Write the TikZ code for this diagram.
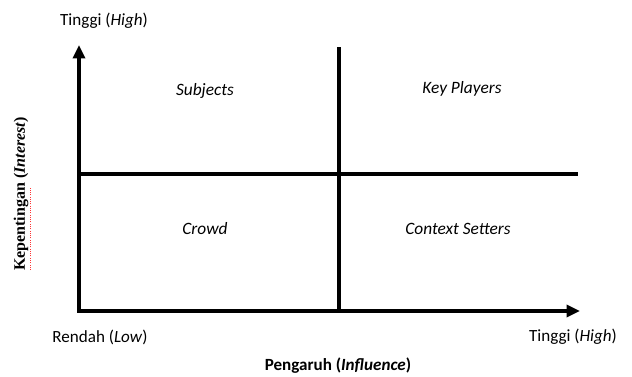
\documentclass[tikz,border=0pt]{standalone}
\usepackage{fontspec}
\setmainfont{Carlito}
\newfontfamily\serifbold{Liberation Serif}
\usetikzlibrary{arrows.meta}
\begin{document}
\begin{tikzpicture}[x=0.75pt,y=-0.75pt,
  axis/.style={line width=2.4pt,-{Triangle[width=9pt,length=10pt]}},
  divider/.style={line width=2.4pt},
  quad/.style={font=\fontsize{13}{15}\selectfont\itshape, inner sep=0pt},
  lbl/.style={font=\fontsize{12.8}{15}\selectfont, inner sep=0pt}]
\useasboundingbox (0,0) rectangle (632,376);
\coordinate (O) at (79,311);
\coordinate (Ytop) at (79,45);
\coordinate (Xend) at (580,311);
\coordinate (Vtop) at (339,47);
\coordinate (Vbot) at (339,311);
\coordinate (Hl) at (79,174);
\coordinate (Hr) at (578,174);
\coordinate (U1) at (30,270);
\coordinate (U2) at (30,188);
\draw[divider] (Vtop) -- (Vbot);
\draw[divider] (Hl) -- (Hr);
\draw[axis,line cap=rect] (O) -- (Ytop);
\draw[axis] (O) -- (Xend);
\node[quad] (subj) at (205,91) {Subjects};
\node[quad] (key) at (462,89) {Key Players};
\node[quad] (crowd) at (205,229) {Crowd};
\node[quad] (ctx) at (458,229) {Context Setters};
\node[lbl] (hy) at (104,21) {Tinggi (\textit{High})};
\node[lbl] (lo) at (100,337) {Rendah (\textit{Low})};
\node[lbl] (hx) at (573,337) {Tinggi (\textit{High})};
\node[lbl,font=\fontsize{12.8}{15}\selectfont\bfseries] (infl) at (338,366) {Pengaruh (\textit{Influence})};
\node[rotate=90,inner sep=0pt,font=\fontsize{12}{14}\selectfont\serifbold\bfseries] (intr) at (21,194) {Kepentingan (\textit{Interest})};
\draw[red!80,densely dotted,line width=0.7pt] (U1) -- (U2);
\end{tikzpicture}
\end{document}
